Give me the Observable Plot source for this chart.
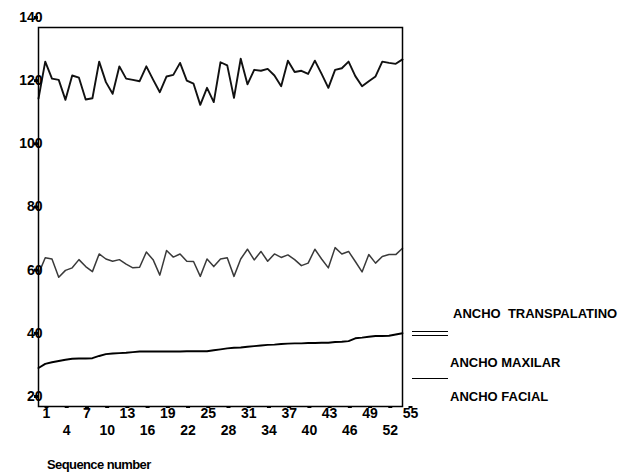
<!DOCTYPE html>
<html><head><meta charset="utf-8">
<script src="https://cdn.jsdelivr.net/npm/d3@7"></script>
<script src="https://cdn.jsdelivr.net/npm/@observablehq/plot@0.6"></script>
<style>
body{margin:0;background:#fff;}
#wrap{position:relative;width:635px;height:474px;font-family:"Liberation Sans",Arial,sans-serif;color:#000;}
#wrap svg{position:absolute;left:0;top:0;}
.lbl{position:absolute;font-weight:bold;font-size:13px;white-space:nowrap;line-height:14px;}
.ln{position:absolute;height:0;border-top:1.3px solid #000;}
#xlabel{position:absolute;left:47px;top:457px;font-size:13px;font-weight:bold;letter-spacing:-0.6px;white-space:nowrap;}
</style></head><body><div id="wrap"></div>
<script>
// Values (sequence 1..55)
const facial = [117.5,129.2,123.8,123.4,117.1,124.8,124.1,117.2,117.6,129.2,122.7,119.0,127.7,123.8,123.4,123.0,127.7,123.5,119.5,124.5,125.0,128.8,123.2,122.2,115.5,120.9,116.4,129.0,128.0,117.7,130.1,122.0,126.6,126.3,126.9,124.8,121.4,129.5,125.9,126.3,125.3,129.5,125.3,120.9,126.6,127.1,129.2,124.6,121.4,123.0,124.5,129.2,128.8,128.5,129.9];
const maxilar = [62.0,67.1,66.7,60.9,63.1,63.9,66.5,64.3,62.7,68.3,66.7,66.0,66.5,65.1,63.9,64.1,68.9,66.5,61.6,69.4,67.3,68.3,66.0,65.9,61.2,66.7,64.3,66.7,67.1,61.2,66.7,69.8,66.4,69.1,66.0,68.3,67.2,68.0,66.5,64.6,65.4,69.8,66.7,63.9,70.3,68.3,69.1,65.9,62.6,68.1,65.4,67.5,68.1,68.1,70.1];
const transpalatino = [32.2,33.5,34.0,34.4,34.8,35.1,35.2,35.2,35.3,36.0,36.6,36.8,36.9,37.0,37.2,37.4,37.4,37.4,37.4,37.4,37.4,37.4,37.5,37.5,37.5,37.5,37.8,38.1,38.4,38.6,38.7,38.9,39.1,39.3,39.5,39.6,39.8,39.9,40.0,40.0,40.1,40.1,40.2,40.2,40.4,40.5,40.7,41.6,41.8,42.1,42.3,42.3,42.4,42.8,43.2];
const yTicks = [20,40,60,80,100,120,140];
const xTicksTop = [1,7,13,19,25,31,37,43,49,55];
const xTicksBottom = [4,10,16,22,28,34,40,46,52];
const legendLabels = ["ANCHO  TRANSPALATINO","ANCHO MAXILAR","ANCHO FACIAL"];
const xTitle = "Sequence number";

const toRows = arr => arr.map((v,i)=>({seq:i+1, v}));

const chart = Plot.plot({
  width:635, height:474,
  marginTop:27, marginLeft:38, marginRight:233, marginBottom:68,
  x:{domain:[1,55]},
  y:{domain:[20,140]},
  style:{fontFamily:'"Liberation Sans",Arial,sans-serif', fontSize:"14px", fontWeight:"bold", color:"#000", background:"transparent"},
  marks:[
    Plot.line(toRows(facial), {x:"seq", y:"v", stroke:"#111", strokeWidth:1.9}),
    Plot.line(toRows(maxilar), {x:"seq", y:"v", stroke:"#3a3a3a", strokeWidth:1.5}),
    Plot.line(toRows(transpalatino), {x:"seq", y:"v", stroke:"#000", strokeWidth:1.9}),
    Plot.frame({stroke:"#000", strokeWidth:1.5}),
    Plot.axisY({ticks:yTicks, tickSize:4, strokeWidth:3, tickPadding:-8, dy:-10, label:null, tickFormat:d=>String(d)}),
    Plot.axisX({ticks:xTicksTop, tickSize:2, strokeWidth:4, tickPadding:0, dx:8, label:null, tickFormat:d=>String(d)}),
    Plot.axisX({ticks:xTicksBottom, tickSize:2, strokeWidth:4, tickPadding:17, dx:8, label:null, tickFormat:d=>String(d)})
  ]
});
const wrap = document.getElementById("wrap");
wrap.appendChild(chart);

const xl = document.createElement("div");
xl.id = "xlabel"; xl.textContent = xTitle; wrap.appendChild(xl);

const legendPos = [[453,307],[450,356],[450,390]];
legendLabels.forEach((t,i)=>{
  const d = document.createElement("div");
  d.className = "lbl"; d.textContent = t;
  d.style.left = legendPos[i][0]+"px"; d.style.top = legendPos[i][1]+"px";
  d.style.whiteSpace = "pre";
  wrap.appendChild(d);
});
[[412,331],[412,335],[412,378]].forEach(p=>{
  const l = document.createElement("div");
  l.className = "ln"; l.style.left = p[0]+"px"; l.style.top = p[1]+"px"; l.style.width = "36px";
  wrap.appendChild(l);
});
</script>
</body></html>
